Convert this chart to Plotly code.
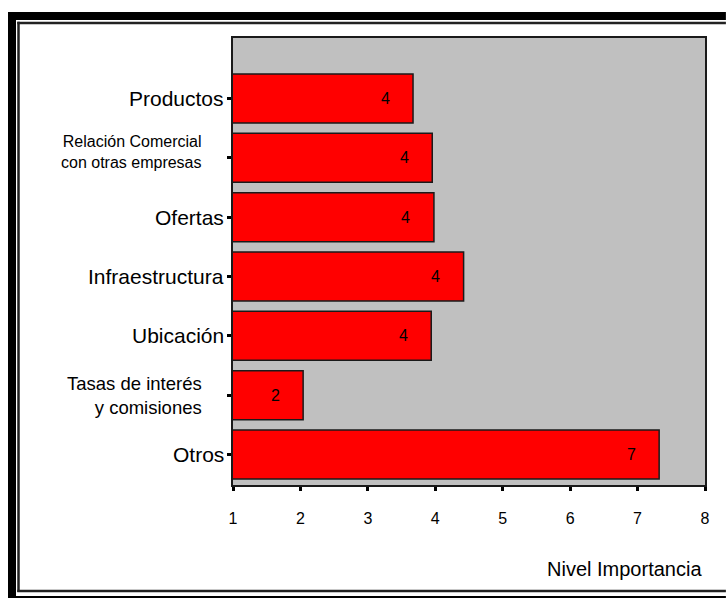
import plotly.graph_objects as go

# Factores evaluados (de abajo hacia arriba) y su nivel de importancia medio
categorias = ["Otros", "Tasas de interés y comisiones", "Ubicación", "Infraestructura",
              "Ofertas", "Relación Comercial con otras empresas", "Productos"]
valores = [7.32, 2.04, 3.94, 4.42, 3.98, 3.955, 3.67]
etiquetas = ["Otros", "Tasas de interés<br>y comisiones", "Ubicación", "Infraestructura",
             "Ofertas", "Relación Comercial<br>con otras empresas", "Productos"]
ticks_x = [1, 2, 3, 4, 5, 6, 7, 8]

W, H = 726, 598
L, R, T, B = 233, 21, 38, 113
PW, PH = W - L - R, H - T - B
FONT = "Liberation Sans, Arial, sans-serif"


def px(x):
    return (x - L) / PW


def py(y):
    return (H - B - y) / PH


pos = list(range(len(categorias)))

fig = go.Figure()
fig.add_trace(go.Bar(
    x=valores, y=pos, orientation="h", width=0.826,
    marker=dict(color="#FF0000", line=dict(color="#1a1a1a", width=1.5)),
    hoverinfo="skip",
))

annotations = []
# rótulos de valor dentro de cada barra
for v, p in zip(valores, pos):
    annotations.append(dict(x=v, y=p, xref="x", yref="y", text=str(round(v)),
                            showarrow=False, xanchor="center", yanchor="middle",
                            xshift=-28, font=dict(family=FONT, size=16, color="black")))

# nombres de categoría a la izquierda del eje
for lab, p in zip(etiquetas, pos):
    if "<br>" in lab:
        small = lab.startswith("Relación")
        annotations.append(dict(x=px(204), y=p, xref="paper", yref="y", text=lab,
                                showarrow=False, xanchor="right", yanchor="middle",
                                align="right", yshift=6 if small else 0,
                                font=dict(family=FONT, size=16 if small else 18.5, color="black")))
    else:
        annotations.append(dict(x=px(226), y=p, xref="paper", yref="y", text=lab,
                                showarrow=False, xanchor="right", yanchor="middle",
                                font=dict(family=FONT, size=21, color="black")))

annotations.append(dict(x=px(704), y=py(569), xref="paper", yref="paper",
                        text="Nivel Importancia", showarrow=False,
                        xanchor="right", yanchor="middle",
                        font=dict(family=FONT, size=20, color="black")))


def segment(x0, y0, x1, y1, color, width):
    return dict(type="line", xref="paper", yref="paper",
                x0=px(x0), y0=py(y0), x1=px(x1), y1=py(y1),
                line=dict(color=color, width=width), layer="above")


# marco doble: lados izquierdo, superior e inferior
shapes = [
    segment(12, 12, 12, 620, "black", 8),
    segment(8, 16, 725.9, 16, "black", 8),
    segment(8, 600, 725.9, 600, "black", 8),
    segment(18.5, 21.8, 18.5, 592, "#222", 2.5),
    segment(17.3, 23, 725.9, 23, "#222", 2.5),
    segment(17.3, 591, 725.9, 591, "#222", 2.5),
]

fig.update_layout(
    width=W, height=H,
    margin=dict(l=L, r=R, t=T, b=B),
    paper_bgcolor="white", plot_bgcolor="#C0C0C0",
    showlegend=False,
    font=dict(family=FONT, size=16, color="black"),
    annotations=annotations, shapes=shapes,
    xaxis=dict(range=[1, 8], tickvals=ticks_x, ticktext=[str(t) for t in ticks_x],
               showgrid=False, zeroline=False, showline=True, mirror=True,
               linecolor="#1a1a1a", linewidth=2, ticks="outside", ticklen=4, tickwidth=3,
               tickcolor="black", tickfont=dict(family=FONT, size=16),
               ticklabelstandoff=14),
    yaxis=dict(range=[-0.514, 7.02], tickvals=pos, ticktext=[""] * len(pos),
               showgrid=False, zeroline=False, showline=True, mirror=True,
               linecolor="#1a1a1a", linewidth=2, ticks="outside", ticklen=4, tickwidth=3,
               tickcolor="black"),
)

fig.write_html("out.html")
